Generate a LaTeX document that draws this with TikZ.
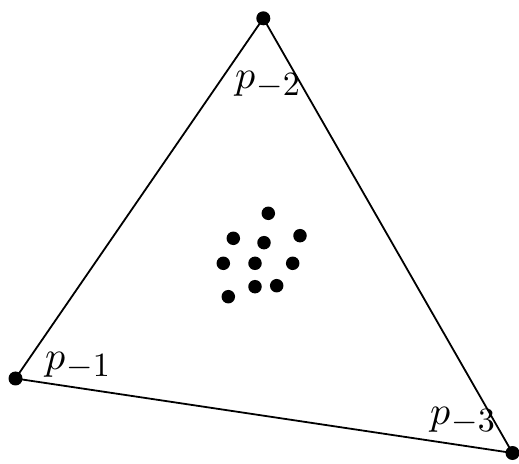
\documentclass[tikz,border=0pt]{standalone}
\usepackage{graphicx}
\newcommand\plab[1]{\scalebox{4}{$p$}\kern1pt\raisebox{-7pt}{\scalebox{3.4}{$-#1$}}}
\begin{document}
\begin{tikzpicture}[x=1pt,y=1pt,
  vdot/.style={circle,fill=black,inner sep=0pt,minimum size=14pt},
  cdot/.style={circle,fill=black,inner sep=0pt,minimum size=13.5pt},
  edge/.style={line width=1.8pt,line join=round},
  plabel/.style={anchor=base west,inner sep=0pt}]
\useasboundingbox (0,0) rectangle (519,463);
\node[vdot] (t) at (263.3,444.7) {};
\node[vdot] (l) at (15.5,84.5) {};
\node[vdot] (r) at (512.5,10) {};
\draw[edge] (t.center) -- (l.center) -- (r.center) -- cycle;
\node[plabel] (lt) at (235,374) {\plab{2}};
\node[plabel] (ll) at (45,93) {\plab{1}};
\node[plabel] (lr) at (430,38) {\plab{3}};
\node[cdot] (c1) at (268.3,249.7) {};
\node[cdot] (c2) at (233.3,224.7) {};
\node[cdot] (c3) at (264,220.3) {};
\node[cdot] (c4) at (300,227.3) {};
\node[cdot] (c5) at (223.3,199.7) {};
\node[cdot] (c6) at (255,199.7) {};
\node[cdot] (c7) at (292.7,199.7) {};
\node[cdot] (c8) at (255,176.3) {};
\node[cdot] (c9) at (276.7,177.3) {};
\node[cdot] (c10) at (228.3,166.3) {};
\end{tikzpicture}
\end{document}
